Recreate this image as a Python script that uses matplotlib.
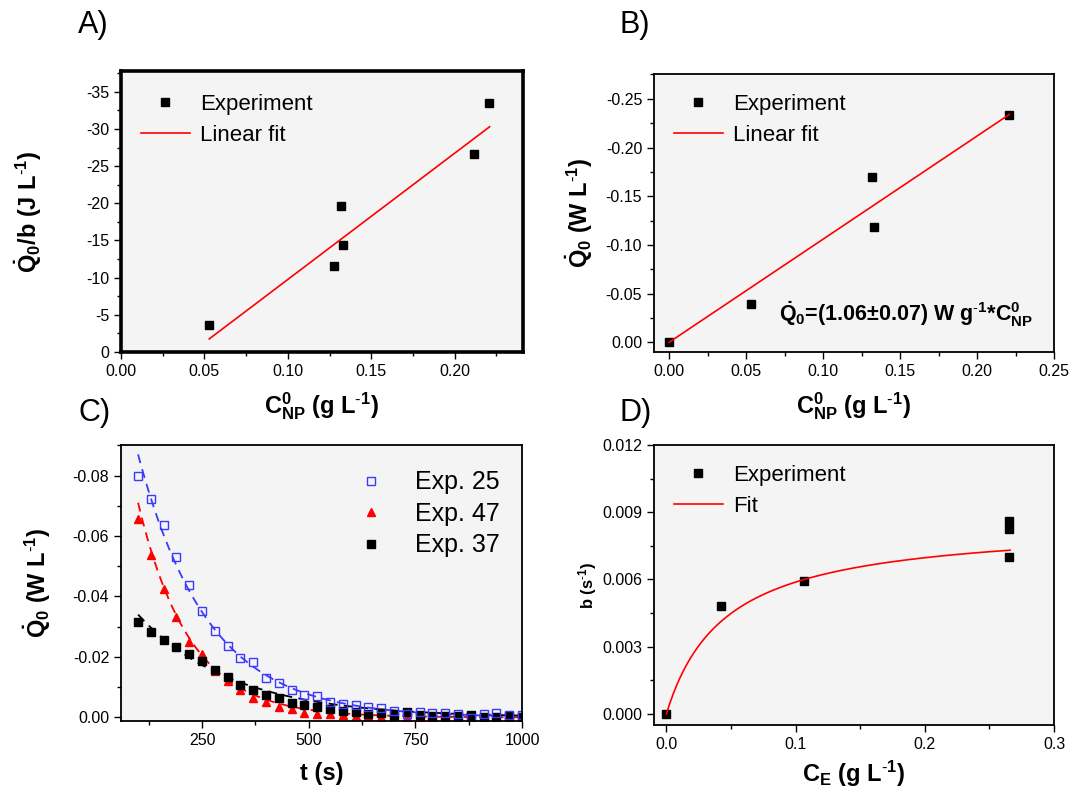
import numpy as np
import matplotlib
matplotlib.use("Agg")
import matplotlib.pyplot as plt
import matplotlib.ticker as mticker

plt.rcParams['font.family'] = ['Liberation Sans', 'DejaVu Sans']
plt.rcParams['mathtext.fontset'] = 'custom'
plt.rcParams['mathtext.rm'] = 'Liberation Sans'
plt.rcParams['mathtext.bf'] = 'Liberation Sans:bold'
plt.rcParams['mathtext.it'] = 'Liberation Sans:italic'
plt.rcParams['mathtext.default'] = 'bf'
plt.rcParams['axes.unicode_minus'] = False

# A) Q0/b vs C_NP
a_x = [0.0529, 0.1276, 0.1317, 0.1328, 0.2116, 0.2206]
a_y = [-3.69, -11.6, -19.7, -14.36, -26.64, -33.5]
a_fit_x = [0.0529, 0.221]
a_fit_y = [-1.76, -30.3]

# B) Q0 vs C_NP
b_x = [0.0, 0.053, 0.132, 0.133, 0.221]
b_y = [0.0, -0.0392, -0.1696, -0.1189, -0.2337]
b_fit_x = [0.0, 0.221]
b_fit_y = [0.0, -0.234]

# C) Q0 vs t
t = [100, 130, 160, 190, 220, 250, 280, 310, 340, 370, 400, 430, 460, 490, 520, 550,
     580, 610, 640, 670, 700, 730, 760, 790, 820, 850, 880, 910, 940, 970, 1000]
exp25 = [-0.0797, -0.0722, -0.0638, -0.0532, -0.0438, -0.0352, -0.0286, -0.0235, -0.0195,
         -0.0184, -0.0129, -0.0114, -0.0092, -0.0075, -0.0072, -0.0051, -0.0044, -0.0040,
         -0.0034, -0.0032, -0.0022, -0.0010, -0.0019, -0.0014, -0.0013, -0.0011, 0.0001,
         -0.0011, -0.0014, -0.0008, -0.0008]
exp47 = [-0.0657, -0.0538, -0.0423, -0.0331, -0.0250, -0.0208, -0.0154, -0.0120, -0.0089,
         -0.0065, -0.0052, -0.0035, -0.0028, -0.0015, -0.0012, -0.0011, -0.0008, -0.0004,
         -0.0004, -0.0002, -0.0003, 0.0, -0.0001, 0.0001, 0.0002, 0.0002, 0.0, 0.0,
         -0.0001, 0.0001, 0.0]
exp37 = [-0.0315, -0.0282, -0.0255, -0.0232, -0.0211, -0.0187, -0.0158, -0.0132, -0.0108,
         -0.0092, -0.0074, -0.0063, -0.0048, -0.0041, -0.0035, -0.0029, -0.0021, -0.0019,
         -0.0012, -0.0015, -0.0008, -0.0018, -0.0008, -0.0006, -0.0005, -0.0005, -0.0008,
         -0.0001, -0.0001, -0.0003, 0.0]
# exponential fits: amplitude at t=100 and decay rate b
fit25 = (-0.087, 0.0061)
fit47 = (-0.071, 0.0083)
fit37 = (-0.034, 0.0045)

# D) b vs C_E
d_x = [0.0, 0.0421, 0.1062, 0.2651, 0.2651, 0.2651]
d_y = [0.0, 0.00483, 0.00595, 0.00861, 0.00825, 0.00698]
d_bmax, d_K = 0.00855, 0.0454

fig = plt.figure(figsize=(10.69, 7.93), dpi=100)
W, H = 1069.0, 793.0

def add_ax(l, t_, r, b):
    return fig.add_axes([l / W, 1 - b / H, (r - l) / W, (b - t_) / H])

axA = add_ax(121, 71, 523, 352)
axB = add_ax(654, 74, 1054, 352)
axC = add_ax(121, 445, 522, 721)
axD = add_ax(654, 445, 1054, 725)

gray = '#f4f4f4'
lab = dict(fontsize=17, fontweight='bold')
leg = dict(frameon=False, fontsize=16, handlelength=2.2, handletextpad=0.45, labelspacing=0.45)
ms = 5.3
inv = r'$^{\text{-}1}$'

for ax in (axA, axB, axC, axD):
    ax.set_facecolor(gray)
    ax.tick_params(which='major', direction='out', length=5, width=1, labelsize=11.5)
    ax.tick_params(which='minor', direction='out', length=3, width=1)
    for s in ax.spines.values():
        s.set_linewidth(1.3)

# A
axA.plot(a_x, a_y, 's', color='black', ms=ms, label='Experiment')
axA.plot(a_fit_x, a_fit_y, '-', color='red', lw=1.2, label='Linear fit')
axA.set_xlim(0, 0.241)
axA.set_ylim(0, -37.8)
axA.xaxis.set_major_locator(mticker.MultipleLocator(0.05))
axA.xaxis.set_minor_locator(mticker.MultipleLocator(0.025))
axA.xaxis.set_major_formatter(mticker.FormatStrFormatter('%.2f'))
axA.yaxis.set_major_locator(mticker.MultipleLocator(5))
axA.yaxis.set_minor_locator(mticker.MultipleLocator(2.5))
for s in axA.spines.values():
    s.set_linewidth(2.6)
axA.set_xlabel(r'$C^0_{NP}$ (g L' + inv + ')', labelpad=8, **lab)
axA.set_ylabel(r'$\dot{Q}_0$/b (J L' + inv + ')', labelpad=30, **lab)
axA.legend(loc='upper left', bbox_to_anchor=(0.0, 0.99), **leg)

# B
axB.plot(b_x, b_y, 's', color='black', ms=ms, label='Experiment')
axB.plot(b_fit_x, b_fit_y, '-', color='red', lw=1.2, label='Linear fit')
axB.set_xlim(-0.00975, 0.25)
axB.set_ylim(0.0099, -0.2755)
axB.xaxis.set_major_locator(mticker.MultipleLocator(0.05))
axB.xaxis.set_minor_locator(mticker.MultipleLocator(0.025))
axB.xaxis.set_major_formatter(mticker.FormatStrFormatter('%.2f'))
axB.yaxis.set_major_locator(mticker.MultipleLocator(0.05))
axB.yaxis.set_minor_locator(mticker.MultipleLocator(0.025))
axB.yaxis.set_major_formatter(mticker.FormatStrFormatter('%.2f'))
axB.set_xlabel(r'$C^0_{NP}$ (g L' + inv + ')', labelpad=8, **lab)
axB.set_ylabel(r'$\dot{Q}_0$ (W L' + inv + ')', labelpad=8, **lab)
axB.legend(loc='upper left', bbox_to_anchor=(0.0, 1.0), **leg)
axB.text(0.0715, -0.029, r'$\dot{Q}_0$=(1.06$\pm$0.07) W g' + inv + r'*C$^0_{NP}$',
         fontsize=15.5, fontweight='bold', va='center', ha='left')

# C
tt = np.array(t, dtype=float)
tfit = np.linspace(100, 1000, 200)
for fit, col in ((fit47, 'red'), (fit37, 'black'), (fit25, '#3a3aff')):
    axC.plot(tfit, fit[0] * np.exp(-fit[1] * (tfit - 100)), '--', color=col, lw=1.3,
             dashes=(5, 3.5))
h47, = axC.plot(tt, exp47, '^', color='red', ms=6, label='Exp. 47')
h37, = axC.plot(tt, exp37, 's', color='black', ms=ms, label='Exp. 37')
h25, = axC.plot(tt, exp25, 's', color='#3a3aff', mfc='none', mew=1.0, ms=5.8, label='Exp. 25')
axC.set_xlim(60, 1000)
axC.set_ylim(0.0012, -0.0901)
axC.xaxis.set_major_locator(mticker.MultipleLocator(250))
axC.xaxis.set_minor_locator(mticker.MultipleLocator(125))
axC.yaxis.set_major_locator(mticker.MultipleLocator(0.02))
axC.yaxis.set_minor_locator(mticker.MultipleLocator(0.01))
axC.yaxis.set_major_formatter(mticker.FormatStrFormatter('%.2f'))
axC.set_xlabel('t (s)', labelpad=10, **lab)
axC.set_ylabel(r'$\dot{Q}_0$ (W L' + inv + ')', labelpad=14, **lab)
axC.legend([h25, h47, h37], ['Exp. 25', 'Exp. 47', 'Exp. 37'], loc='upper right',
           bbox_to_anchor=(1.0, 0.99), frameon=False, fontsize=18, handlelength=1.5,
           handletextpad=1.0, labelspacing=0.3)

# D
cfit = np.linspace(0, 0.266, 200)
axD.plot(d_x, d_y, 's', color='black', ms=ms, label='Experiment')
axD.plot(cfit, d_bmax * cfit / (d_K + cfit), '-', color='red', lw=1.2, label='Fit')
axD.set_xlim(-0.0096, 0.3)
axD.set_ylim(-0.0005, 0.012)
axD.xaxis.set_major_locator(mticker.MultipleLocator(0.1))
axD.xaxis.set_minor_locator(mticker.MultipleLocator(0.05))
axD.xaxis.set_major_formatter(mticker.FormatStrFormatter('%.1f'))
axD.yaxis.set_major_locator(mticker.MultipleLocator(0.003))
axD.yaxis.set_minor_locator(mticker.MultipleLocator(0.0015))
axD.yaxis.set_major_formatter(mticker.FormatStrFormatter('%.3f'))
axD.set_xlabel(r'$C_E$ (g L' + inv + ')', labelpad=5, **lab)
axD.set_ylabel(r'b (s' + inv + ')', labelpad=2, fontsize=12, fontweight='bold')
axD.legend(loc='upper left', bbox_to_anchor=(0.0, 1.0), **leg)

# panel letters
for x, y, s in ((78, 10, 'A)'), (620, 10, 'B)'), (78, 398, 'C)'), (620, 398, 'D)')):
    fig.text(x / W, 1 - y / H, s, fontsize=22, ha='left', va='top')

fig.savefig('out.png', dpi=100)
